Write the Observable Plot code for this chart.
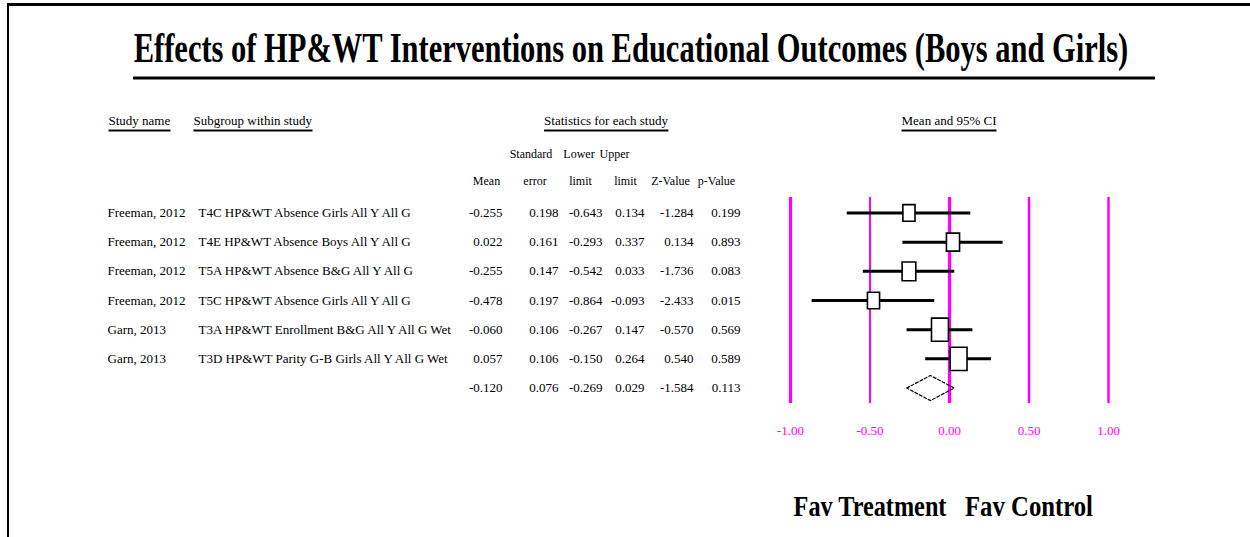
<!DOCTYPE html>
<html>
<head>
<meta charset="utf-8">
<script src="https://cdn.jsdelivr.net/npm/d3@7"></script>
<script src="https://cdn.jsdelivr.net/npm/@observablehq/plot@0.6"></script>
<style>
  html, body { margin: 0; padding: 0; background: #fff; }
  #wrap { position: relative; width: 1250px; height: 537px; overflow: hidden; background: #fff; }
  #wrap svg { position: absolute; left: 0; top: 0; }
  #frame { position: absolute; left: 7px; top: 3px; right: -10px; bottom: -10px;
           border-top: 3px solid #000; border-left: 2.5px solid #000; pointer-events: none; }
</style>
</head>
<body>
<div id="wrap"><div id="frame"></div></div>
<script>
// ---- data -------------------------------------------------------------
const studyNames = ["Freeman, 2012", "Freeman, 2012", "Freeman, 2012", "Freeman, 2012", "Garn, 2013", "Garn, 2013"];
const subgroups = [
  "T4C HP&WT Absence Girls All Y All G",
  "T4E HP&WT Absence Boys All Y All G",
  "T5A HP&WT Absence B&G All Y All G",
  "T5C HP&WT Absence Girls All Y All G",
  "T3A HP&WT Enrollment B&G All Y All G Wet",
  "T3D HP&WT Parity G-B Girls All Y All G Wet"
];
const means       = [-0.255, 0.022, -0.255, -0.478, -0.060, 0.057];
const stdErrors   = [0.198, 0.161, 0.147, 0.197, 0.106, 0.106];
const lowerLimits = [-0.643, -0.293, -0.542, -0.864, -0.267, -0.150];
const upperLimits = [0.134, 0.337, 0.033, -0.093, 0.147, 0.264];
const zValues     = [-1.284, 0.134, -1.736, -2.433, -0.570, 0.540];
const pValues     = [0.199, 0.893, 0.083, 0.015, 0.569, 0.589];

// pooled estimate
const pooledMean = -0.120, pooledSE = 0.076, pooledLower = -0.269, pooledUpper = 0.029, pooledZ = -1.584, pooledP = 0.113;

const xTicks = [-1, -0.5, 0, 0.5, 1];
const sideLabels = ["Fav Treatment", "Fav Control"];
const sideAt = [-0.5, 0.5];
const chartTitle = "Effects of HP&WT Interventions on Educational Outcomes (Boys and Girls)";
const sectionHeaders = ["Study name", "Subgroup within study", "Statistics for each study", "Mean and 95% CI"];
const columnHeadersTop = ["Standard", "Lower", "Upper"];
const columnHeadersBottom = ["Mean", "error", "limit", "limit", "Z-Value", "p-Value"];

// ---- derived tables ---------------------------------------------------
const studies = studyNames.map((study, i) => ({
  row: i, study, subgroup: subgroups[i], mean: means[i], se: stdErrors[i],
  lower: lowerLimits[i], upper: upperLimits[i], z: zValues[i], p: pValues[i],
  weight: 1 / (stdErrors[i] * stdErrors[i])
}));
const pooledRow = studies.length;
const tableRows = [...studies, {row: pooledRow, study: "", subgroup: "", mean: pooledMean, se: pooledSE,
  lower: pooledLower, upper: pooledUpper, z: pooledZ, p: pooledP}];

// ---- layout -----------------------------------------------------------
const W = 1250, H = 537;
const M = {top: 197, right: 142, bottom: 134, left: 790};
const ox = px => px - M.left;   // horizontal offset from the frame's left edge
const oy = py => py - M.top;    // vertical offset from the frame's top edge
const serif = "Liberation Serif, Times New Roman, serif";
const fmt = v => v.toFixed(3);
const magenta = "#ff00ff";

// table columns (x of anchor edge)
const columns = [
  {value: d => d.study,       x: 107, anchor: "start"},
  {value: d => d.subgroup,    x: 198, anchor: "start"},
  {value: d => fmt(d.mean),   x: 502, anchor: "end"},
  {value: d => fmt(d.se),     x: 558, anchor: "end"},
  {value: d => fmt(d.lower),  x: 602, anchor: "end"},
  {value: d => fmt(d.upper),  x: 644, anchor: "end"},
  {value: d => fmt(d.z),      x: 693, anchor: "end"},
  {value: d => fmt(d.p),      x: 740, anchor: "end"}
];
const sectionLayout = [
  {x: 108, anchor: "start"}, {x: 193, anchor: "start"}, {x: 605.5, anchor: "middle"}, {x: 948.5, anchor: "middle"}
];
const topHeaderX = [530.5, 578.5, 614];
const bottomHeaderX = [486, 534.5, 580, 625, 670, 716];

// white rectangle sized by the study weight
const weightBox = {
  draw(context, size) {
    const h = Math.sqrt(size / Math.PI);
    const w = h * 0.73;
    context.moveTo(-w, -h);
    context.lineTo(w, -h);
    context.lineTo(w, h);
    context.lineTo(-w, h);
    context.closePath();
  }
};

const diamond = [
  {x: pooledLower, y: pooledRow},
  {x: pooledMean, y: pooledRow - 0.43},
  {x: pooledUpper, y: pooledRow},
  {x: pooledMean, y: pooledRow + 0.43}
];

const ruleWidth = d => (d === -1 || d === 0) ? 3.2 : d === -0.5 ? 2 : 2.5;

const textBase = {fontFamily: serif, fontSize: 13, fill: "#000"};
const placed = (label, x, y, anchor, extra = {}) =>
  Plot.text([label], {...textBase, text: d => d, frameAnchor: "top-left", lineAnchor: "middle",
    dx: ox(x), dy: oy(y), textAnchor: anchor, ...extra});

const chart = Plot.plot({
  width: W,
  height: H,
  marginTop: M.top,
  marginRight: M.right,
  marginBottom: M.bottom,
  marginLeft: M.left,
  style: {fontFamily: serif, fontSize: "13px", background: "transparent", overflow: "visible"},
  x: {domain: [-1, 1]},
  y: {domain: [-0.53, pooledRow + 0.53], reverse: true, axis: null},
  r: {type: "linear", domain: [25.5, 89], range: [8.3, 11.6]},
  marks: [
    // reference lines
    Plot.ruleX(xTicks, {x: d => d, stroke: magenta, strokeWidth: ruleWidth}),
    Plot.axisX({ticks: xTicks, tickFormat: d => d.toFixed(2), tickSize: 0, tickPadding: 22,
      fill: magenta, fontSize: 13, fontFamily: serif, label: null}),
    // confidence intervals and weighted point estimates
    Plot.ruleY(studies, {y: "row", x1: "lower", x2: "upper", stroke: "#000", strokeWidth: 3}),
    Plot.dot(studies, {x: "mean", y: "row", r: "weight", symbol: weightBox, fill: "#fff", stroke: "#000", strokeWidth: 1.6}),
    // pooled estimate
    Plot.line(diamond, {x: "x", y: "y", curve: "linear-closed", stroke: "#000", strokeWidth: 1.2, strokeDasharray: "3,2"}),
    // table body
    ...columns.map(c => Plot.text(tableRows, {
      ...textBase, y: "row", text: c.value, frameAnchor: "left", dx: ox(c.x), textAnchor: c.anchor
    })),
    // section headers
    ...sectionHeaders.map((t, i) => placed(t, sectionLayout[i].x, 120, sectionLayout[i].anchor)),
    // column headers
    ...columnHeadersTop.map((t, i) => placed(t, topHeaderX[i], 154, "middle", {fontSize: 12})),
    ...columnHeadersBottom.map((t, i) => placed(t, bottomHeaderX[i], 181, "middle", {fontSize: 12})),
    // favours labels under each half of the axis
    Plot.text(sideLabels, {x: (d, i) => sideAt[i], text: d => d, frameAnchor: "bottom", lineAnchor: "middle",
      dy: 505.5 - (H - M.bottom), textAnchor: "middle",
      fontFamily: serif, fontSize: 30, fontWeight: "bold", fill: "#000"}),
    // title
    placed(chartTitle, 630.5, 48.5, "middle", {fontSize: 42, fontWeight: "bold"})
  ]
});

document.getElementById("wrap").insertBefore(chart, document.getElementById("frame"));

const svg = d3.select(chart);
const textsOf = label => svg.selectAll("text").filter(function() { return this.textContent === label; });

// squeeze a centred text horizontally to a given width, keeping its centre
function condense(label, width) {
  textsOf(label).each(function() {
    const natural = this.getComputedTextLength();
    const t = this.getAttribute("transform") || "";
    this.setAttribute("transform", `${t} scale(${width / natural},1)`);
  });
}
condense(chartTitle, 995);
condense(sideLabels[0], 153);
condense(sideLabels[1], 128);

// underline each section header
const svgRect = chart.getBoundingClientRect();
sectionHeaders.forEach(t => {
  textsOf(t).each(function() {
    const b = this.getBoundingClientRect();
    svg.append("line")
      .attr("x1", b.left - svgRect.left).attr("x2", b.right - svgRect.left)
      .attr("y1", 130.5).attr("y2", 130.5)
      .attr("stroke", "#000").attr("stroke-width", 2);
  });
});
// rule beneath the title
svg.append("line").attr("x1", 133).attr("x2", 1155).attr("y1", 78).attr("y2", 78)
  .attr("stroke", "#000").attr("stroke-width", 3);
</script>
</body>
</html>
